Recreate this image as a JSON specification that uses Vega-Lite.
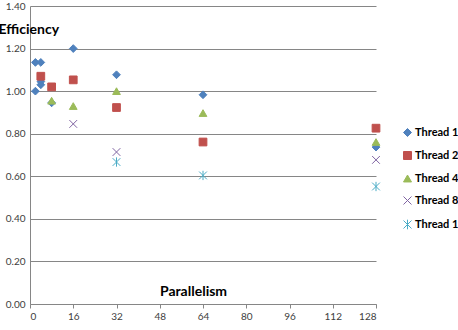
{
  "$schema": "https://vega.github.io/schema/vega-lite/v6.json",
  "width": 346,
  "height": 298,
  "autosize": "none",
  "padding": {"left": 30, "top": 6, "right": 82, "bottom": 26},
  "background": "white",
  "config": {"view": {"stroke": null}, "font": "Lato"},
  "data": {
    "values": [
      {"parallelism": 2, "efficiency": 1.00, "series": "Thread 1"},
      {"parallelism": 2, "efficiency": 1.135, "series": "Thread 1"},
      {"parallelism": 4, "efficiency": 1.135, "series": "Thread 1"},
      {"parallelism": 4, "efficiency": 1.045, "series": "Thread 1"},
      {"parallelism": 4, "efficiency": 1.03, "series": "Thread 1"},
      {"parallelism": 8, "efficiency": 0.945, "series": "Thread 1"},
      {"parallelism": 16, "efficiency": 1.20, "series": "Thread 1"},
      {"parallelism": 32, "efficiency": 1.077, "series": "Thread 1"},
      {"parallelism": 64, "efficiency": 0.983, "series": "Thread 1"},
      {"parallelism": 128, "efficiency": 0.737, "series": "Thread 1"},
      {"parallelism": 4, "efficiency": 1.07, "series": "Thread 2"},
      {"parallelism": 8, "efficiency": 1.02, "series": "Thread 2"},
      {"parallelism": 16, "efficiency": 1.053, "series": "Thread 2"},
      {"parallelism": 32, "efficiency": 0.923, "series": "Thread 2"},
      {"parallelism": 64, "efficiency": 0.761, "series": "Thread 2"},
      {"parallelism": 128, "efficiency": 0.826, "series": "Thread 2"},
      {"parallelism": 8, "efficiency": 0.955, "series": "Thread 4"},
      {"parallelism": 16, "efficiency": 0.93, "series": "Thread 4"},
      {"parallelism": 32, "efficiency": 1.00, "series": "Thread 4"},
      {"parallelism": 64, "efficiency": 0.897, "series": "Thread 4"},
      {"parallelism": 128, "efficiency": 0.761, "series": "Thread 4"},
      {"parallelism": 16, "efficiency": 0.846, "series": "Thread 8"},
      {"parallelism": 32, "efficiency": 0.714, "series": "Thread 8"},
      {"parallelism": 128, "efficiency": 0.677, "series": "Thread 8"},
      {"parallelism": 32, "efficiency": 0.667, "series": "Thread 16"},
      {"parallelism": 64, "efficiency": 0.604, "series": "Thread 16"},
      {"parallelism": 128, "efficiency": 0.552, "series": "Thread 16"}
    ]
  },
  "mark": {"type": "point", "filled": true, "size": 60, "strokeWidth": 1, "opacity": 1},
  "encoding": {
    "x": {
      "field": "parallelism",
      "type": "quantitative",
      "scale": {"domain": [0, 128], "nice": false},
      "axis": {
        "values": [0, 16, 32, 48, 64, 80, 96, 112, 128],
        "grid": false,
        "domainColor": "#868686",
        "tickColor": "#868686",
        "tickSize": 4,
        "labelPadding": 3,
        "labelFontSize": 10,
        "labelColor": "#404040",
        "title": "Parallelism",
        "titleX": 163,
        "titleY": -9,
        "titleAlign": "center",
        "titleBaseline": "alphabetic",
        "titleFontSize": 14,
        "titleFontWeight": "bold",
        "titleColor": "#000000"
      }
    },
    "y": {
      "field": "efficiency",
      "type": "quantitative",
      "scale": {"domain": [0, 1.4], "nice": false},
      "axis": {
        "values": [0, 0.2, 0.4, 0.6, 0.8, 1.0, 1.2, 1.4],
        "format": ".2f",
        "grid": true,
        "gridColor": "#868686",
        "domainColor": "#868686",
        "ticks": false,
        "labelPadding": 5,
        "labelFontSize": 10,
        "labelColor": "#404040",
        "title": "Efficiency",
        "titleAngle": 0,
        "titleX": -32,
        "titleY": 27,
        "titleAlign": "left",
        "titleBaseline": "alphabetic",
        "titleFontSize": 14,
        "titleFontWeight": "bold",
        "titleColor": "#000000"
      }
    },
    "fill": {
      "field": "series",
      "type": "nominal",
      "scale": {
        "domain": ["Thread 1", "Thread 2", "Thread 4", "Thread 8", "Thread 16"],
        "range": ["#4F81BD", "#C0504D", "#9BBB59", "#8064A2", "#4BACC6"]
      },
      "legend": {
        "orient": "none",
        "legendX": 372,
        "legendY": 121,
        "title": null,
        "padding": 0,
        "symbolSize": 64,
        "symbolStrokeWidth": 1,
        "labelFontSize": 11,
        "labelFontWeight": "bold",
        "labelColor": "#000000",
        "labelOffset": 2,
        "rowPadding": 10
      }
    },
    "stroke": {
      "field": "series",
      "type": "nominal",
      "scale": {
        "domain": ["Thread 1", "Thread 2", "Thread 4", "Thread 8", "Thread 16"],
        "range": ["#4F81BD", "#C0504D", "#9BBB59", "#8064A2", "#4BACC6"]
      }
    },
    "shape": {
      "field": "series",
      "type": "nominal",
      "scale": {
        "domain": ["Thread 1", "Thread 2", "Thread 4", "Thread 8", "Thread 16"],
        "range": ["diamond", "square", "triangle-up", "M-1,-1L1,1M-1,1L1,-1", "M-1,-1L1,1M-1,1L1,-1M0,-1.2L0,1.2"]
      }
    }
  }
}
